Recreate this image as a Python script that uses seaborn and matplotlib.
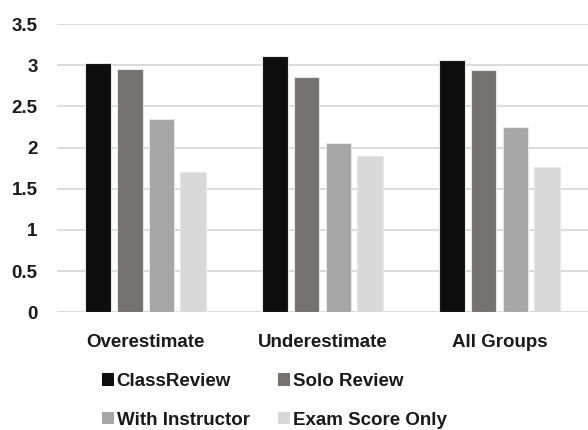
import pandas as pd
import numpy as np
import matplotlib.pyplot as plt
import seaborn as sns
from matplotlib.patches import Patch

# data
groups = ['Overestimate', 'Underestimate', 'All Groups']
series = ['ClassReview', 'Solo Review', 'With Instructor', 'Exam Score Only']
class_review = [3.03, 3.11, 3.06]
solo_review = [2.96, 2.86, 2.94]
with_instructor = [2.35, 2.05, 2.25]
exam_only = [1.70, 1.90, 1.76]
colors = ['#0d0d0d', '#767171', '#a6a6a6', '#d9d9d9']

values = [class_review, solo_review, with_instructor, exam_only]
rows = []
for s, vals in zip(series, values):
    for g, v in zip(groups, vals):
        rows.append({'group': g, 'series': s, 'value': v})
df = pd.DataFrame(rows)

sns.set_style('white')
plt.rcParams['font.family'] = ['Liberation Sans', 'DejaVu Sans']

fig = plt.figure(figsize=(5.88, 4.30), dpi=100)
ax = fig.add_axes([0.097, 0.274, 0.903, 0.670])

sns.barplot(data=df, x='group', y='value', hue='series', order=groups,
            hue_order=series, palette=colors, width=0.72, gap=0.19,
            edgecolor='#e6e6e6', linewidth=0.8, legend=False, ax=ax,
            zorder=3)

ax.set_ylim(0, 3.5)
ax.set_yticks(np.arange(0, 3.51, 0.5))
ax.set_yticklabels(['0', '0.5', '1', '1.5', '2', '2.5', '3', '3.5'])
ax.set_xlim(-0.5, 2.5)
ax.yaxis.grid(True, color='#d9d9d9', linewidth=1.3, zorder=0)
ax.set_axisbelow(True)
for sp in ax.spines.values():
    sp.set_visible(False)
ax.set_xlabel('')
ax.set_ylabel('')
ax.tick_params(axis='y', length=0, pad=14, labelsize=13.5)
ax.tick_params(axis='x', length=0, pad=16, labelsize=13.5)
for lab in ax.get_yticklabels() + ax.get_xticklabels():
    lab.set_fontweight('bold')
    lab.set_color('#1a1a1a')

# legend fills row by row: ClassReview, Solo Review / With Instructor, Exam Score Only
order = [0, 2, 1, 3]
handles = [Patch(facecolor=colors[i], edgecolor='none') for i in order]
labels = [series[i] for i in order]
fig.legend(handles, labels, loc='center', bbox_to_anchor=(0.466, 0.068),
           ncol=2, frameon=False, handlelength=0.65, handleheight=0.65,
           handletextpad=0.15, columnspacing=1.5, labelspacing=1.15,
           prop={'weight': 'bold', 'size': 13.5})
for t in fig.legends[0].get_texts():
    t.set_color('#1a1a1a')

fig.savefig('out.png', dpi=100, facecolor='white')
